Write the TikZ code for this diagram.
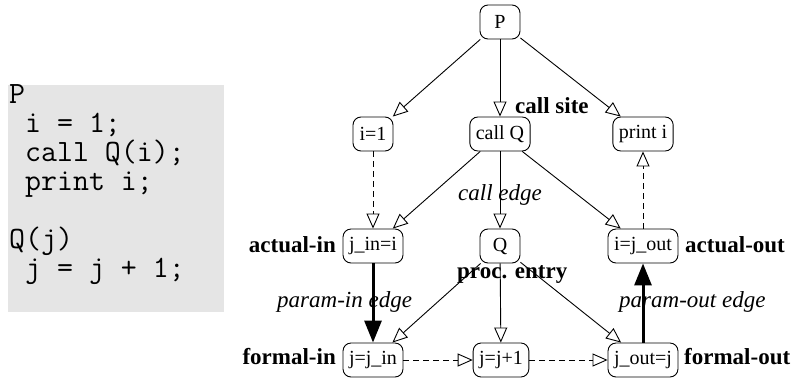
\documentclass[tikz,border=0pt]{standalone}
\usepackage{fontspec}
\setmainfont{Liberation Serif}
\usetikzlibrary{arrows.meta}
\definecolor{codebg}{HTML}{E5E5E5}

\tikzset{
  box/.style = {draw, rounded corners=8pt, line width=0.9pt, minimum width=40pt,
    minimum height=34pt, inner xsep=6pt, font=\fontsize{20}{22}\selectfont},
  blbl/.style = {font=\fontsize{23}{25}\selectfont\bfseries, inner sep=0pt},
  ilbl/.style = {font=\fontsize{23}{25}\selectfont\itshape, inner sep=0pt},
  edg/.style = {line width=0.9pt, -{Triangle[open, length=15pt, width=13pt]}},
  dedg/.style = {edg, dash pattern=on 6pt off 4pt},
  pedg/.style = {line width=3pt, -{Triangle[length=22pt, width=17pt]}}
}

\begin{document}
\begin{tikzpicture}[x=1pt, y=-1pt]
\useasboundingbox (0,0) rectangle (795,380);

% source program
\fill[codebg] (8,85) rectangle (224,312);
\node[anchor=base west, align=left, inner sep=0pt,
  font=\ttfamily\fontsize{31}{29}\selectfont] (code) at (9,277)
  {P\\
   \phantom{x}i = 1;\\
   \phantom{x}call Q(i);\\
   \phantom{x}print i;\\[29pt]
   Q(j)\\
   \phantom{x}j = j + 1;};

% procedure P
\node[box] (P) at (500,22) {P};
\node[box] (i1) at (373,134) {i=1};
\node[box] (callQ) at (500,134) {call Q};
\node[box] (print) at (643,134) {print i};
\node[box] (ain) at (373,246) {j\_in=i};
\node[box] (aout) at (643,246) {i=j\_out};

% procedure Q
\node[box] (Q) at (500,246) {Q};
\node[box] (fin) at (373,360) {j=j\_in};
\node[box] (body) at (501,360) {j=j+1};
\node[box] (fout) at (643,360) {j\_out=j};

% labels
\node[blbl, anchor=base west] (site) at (515,113) {call site};
\node[blbl, anchor=base east] (ainL) at (336,252) {actual-in};
\node[blbl, anchor=base west] (aoutL) at (685,252) {actual-out};
\node[blbl, anchor=base east] (finL) at (336,364) {formal-in};
\node[blbl, anchor=base west] (foutL) at (684,364) {formal-out};
\node[blbl, anchor=base west] (entry) at (457,278) {proc. entry};
\node[ilbl, anchor=base west] (callE) at (458,200) {call edge};
\node[ilbl, anchor=base west] (pinE) at (277,307) {param-in edge};
\node[ilbl, anchor=base west] (poutE) at (619,307) {param-out edge};

% control dependences
\draw[edg] (P) -- (i1);
\draw[edg] (P) -- (callQ);
\draw[edg] (P) -- (print);
\draw[edg] (callQ) -- (ain);
\draw[edg] (callQ) -- (Q);
\draw[edg] (callQ) -- (aout);
\draw[edg] (Q) -- (fin);
\draw[edg] (Q) -- (body);
\draw[edg] (Q) -- (fout);

% data dependences
\draw[dedg] (i1) -- (ain);
\draw[dedg] (aout) -- (print);
\draw[dedg] (fin) -- (body);
\draw[dedg] (body) -- (fout);

% parameter edges
\draw[pedg] (ain) -- (fin);
\draw[pedg] (fout) -- (aout);
\end{tikzpicture}
\end{document}
